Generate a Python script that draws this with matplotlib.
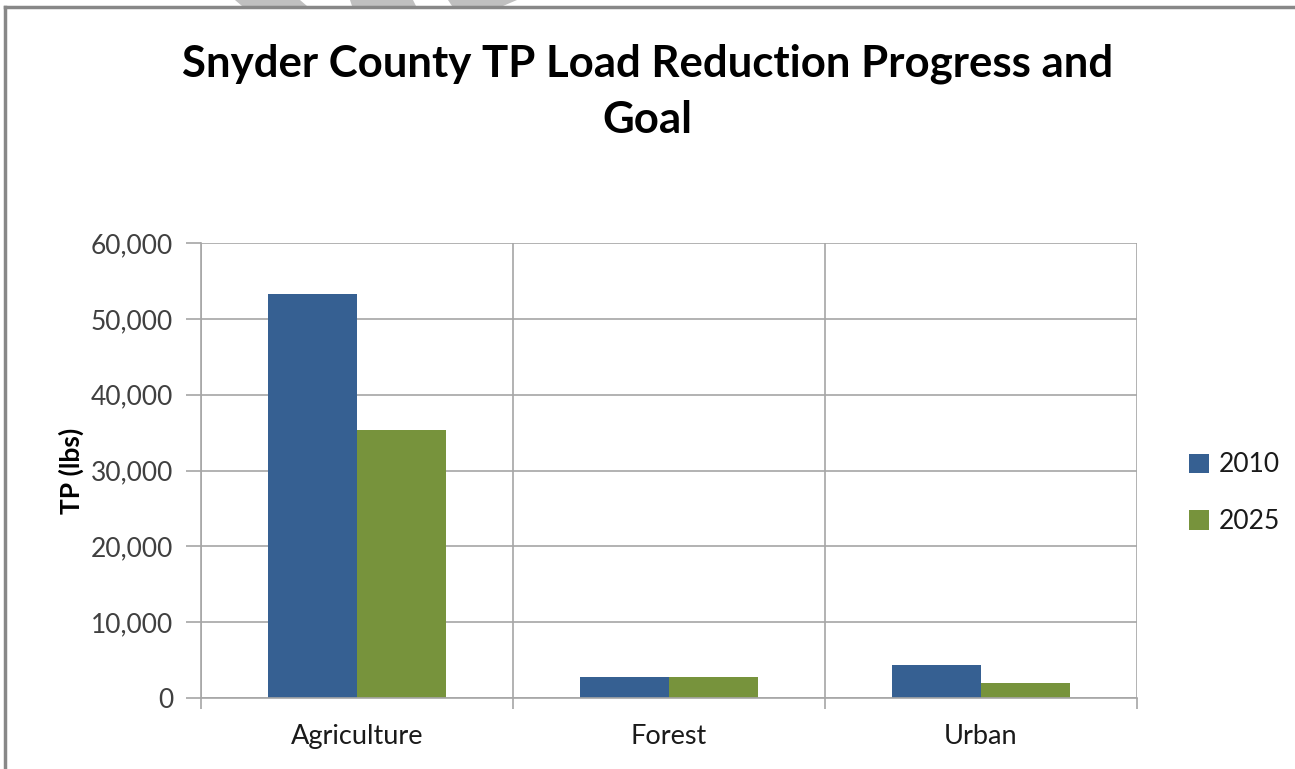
import matplotlib.pyplot as plt
import numpy as np
from matplotlib.patches import Polygon, Patch
from matplotlib.ticker import FuncFormatter

categories = ["Agriculture", "Forest", "Urban"]
series_names = ["2010", "2025"]
tp_2010 = [53300, 2750, 4300]
tp_2025 = [35300, 2750, 2000]
y_ticks = [0, 10000, 20000, 30000, 40000, 50000, 60000]

COLORS = ["#366092", "#77933C"]
GRID = "#a6a6a6"
TEXT = "#404040"

plt.rcParams["font.family"] = ["Lato", "DejaVu Sans"]

fig = plt.figure(figsize=(12.95, 7.69), dpi=100)
ax = fig.add_axes([201 / 1295, 71 / 769, 936 / 1295, 455 / 769])

x = np.arange(len(categories))
width = 0.285
ax.bar(x - width / 2, tp_2010, width, color=COLORS[0], label=series_names[0])
ax.bar(x + width / 2, tp_2025, width, color=COLORS[1], label=series_names[1])

ax.set_xlim(-0.5, len(categories) - 0.5)
ax.set_ylim(0, 60000)
ax.set_yticks(y_ticks)
ax.yaxis.set_major_formatter(FuncFormatter(lambda v, p: f"{int(v):,}"))
ax.set_xticks(x)
ax.set_xticklabels(categories)

# category boundary lines + horizontal grid
ax.set_xticks(np.arange(-0.5, len(categories)), minor=True)
ax.grid(axis="y", color=GRID, linewidth=1.2)
ax.grid(axis="x", which="minor", color=GRID, linewidth=1.2)
ax.set_axisbelow(True)

for s in ["top", "right"]:
    ax.spines[s].set_visible(False)
for s in ["left", "bottom"]:
    ax.spines[s].set_color(GRID)
    ax.spines[s].set_linewidth(1.2)

ax.tick_params(axis="x", which="major", length=0, pad=19, labelsize=19.5, labelcolor="#1a1a1a")
ax.tick_params(axis="x", which="minor", length=8, color=GRID, width=1.2)
ax.tick_params(axis="y", length=11, color=GRID, width=1.2, pad=9, labelsize=19, labelcolor=TEXT)

ax.set_ylabel("TP (lbs)", fontsize=19, fontweight="bold", labelpad=5)

handles = [Patch(facecolor=c, label=n) for c, n in zip(COLORS, series_names)]
ax.legend(handles=handles, loc="center left", bbox_to_anchor=(1.03, 0.45), frameon=False,
          fontsize=19, handlelength=0.75, handleheight=0.75, labelspacing=1.2, handletextpad=0.4,
          labelcolor="#1a1a1a")

fig.text(0.5, 1 - 91.5 / 769, "Snyder County TP Load Reduction Progress and\nGoal", ha="center",
         va="center", fontsize=31.5, fontweight="bold", linespacing=1.5)

# outer chart frame (top and left edge visible)
fig.add_artist(plt.Line2D([5 / 1295, 5 / 1295], [0, 1 - 7 / 769], color="#888888", linewidth=2.5,
                          transform=fig.transFigure))
fig.add_artist(plt.Line2D([5 / 1295, 1], [1 - 7 / 769, 1 - 7 / 769], color="#888888", linewidth=2.5,
                          transform=fig.transFigure))

# gray shapes peeking over the frame at the top
shapes = [
    [(235, 0), (300, 0), (307, 6), (242, 6)],
    [(350, 0), (413, 0), (416, 6), (352, 6)],
    [(448, 0), (517, 0), (503, 6), (452, 6)],
]
for pts in shapes:
    fig.add_artist(Polygon([(px / 1295, 1 - py / 769) for px, py in pts], closed=True,
                           facecolor="#c0c0c0", edgecolor="none", transform=fig.transFigure))

fig.savefig("out.png", dpi=100)
